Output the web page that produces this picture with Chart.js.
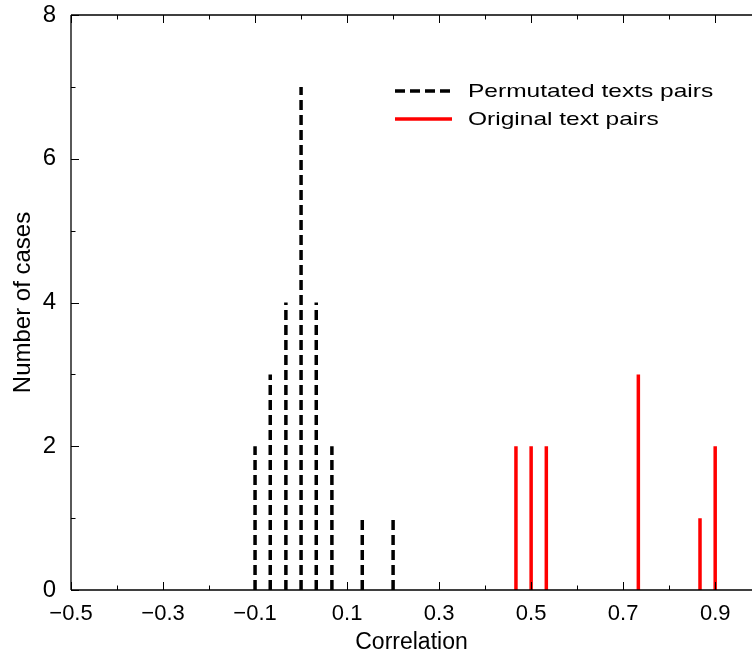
<!DOCTYPE html>
<html>
<head>
<meta charset="utf-8">
<script src="https://cdn.jsdelivr.net/npm/chart.js@4.4.0/dist/chart.umd.min.js"></script>
<style>
  html, body { margin: 0; padding: 0; background: #fff; }
  #wrap { width: 752px; height: 657px; }
</style>
</head>
<body>
<div id="wrap"><canvas id="hist" width="752" height="657"></canvas></div>
<script>
// Correlation histogram: permutated vs original text pairs

const permX = [-0.1, -0.067, -0.033, 0, 0.033, 0.067, 0.133, 0.2];
const permCount = [2, 3, 4, 7, 4, 2, 1, 1];

const origX = [0.467, 0.5, 0.533, 0.733, 0.867, 0.9];
const origCount = [2, 2, 2, 3, 1, 2];

const xTickValues = [-0.5, -0.3, -0.1, 0.1, 0.3, 0.5, 0.7, 0.9];
const yTickValues = [0, 2, 4, 6, 8];

const seriesLabels = ['Permutated texts pairs', 'Original text pairs'];

// every stem: (x,0) -> (x,count), then a null to break the line
function stems(xs, counts) {
  const pts = [];
  xs.forEach((x, i) => {
    pts.push({ x: x, y: 0 }, { x: x, y: counts[i] }, { x: x, y: null });
  });
  return pts;
}

const FONT = "'Liberation Sans', Arial, Helvetica, sans-serif";

// axes frame with inward ticks (gnuplot style)
const framePlugin = {
  id: 'frame',
  afterDatasetsDraw(chart) {
    const { ctx, chartArea: a, scales: { x, y } } = chart;
    ctx.save();
    ctx.strokeStyle = '#000';
    ctx.lineWidth = 1.3;
    ctx.setLineDash([]);
    ctx.beginPath();
    ctx.moveTo(a.left, a.top); ctx.lineTo(a.left, a.bottom);
    ctx.moveTo(a.left, a.bottom); ctx.lineTo(a.right, a.bottom);
    ctx.moveTo(a.left, a.top); ctx.lineTo(a.right, a.top);
    ctx.stroke();

    ctx.lineWidth = 1;
    ctx.beginPath();
    // x ticks every 0.1, major on labelled ones
    for (let i = 0; i <= 15; i++) {
      const v = -0.5 + i * 0.1;
      if (v > x.max + 1e-9) break;
      const px = Math.round(x.getPixelForValue(v)) + 0.5;
      const major = xTickValues.some(t => Math.abs(t - v) < 1e-6);
      const len = major ? 8 : 4.5;
      ctx.moveTo(px, a.bottom); ctx.lineTo(px, a.bottom - len);
      ctx.moveTo(px, a.top); ctx.lineTo(px, a.top + len);
    }
    for (let v = 0; v <= 8; v++) {
      const py = Math.round(y.getPixelForValue(v)) + 0.5;
      const len = yTickValues.includes(v) ? 8 : 4.5;
      ctx.moveTo(a.left, py); ctx.lineTo(a.left + len, py);
    }
    ctx.stroke();
    ctx.restore();
  }
};

// legend drawn inside the plot, text stretched like the original
const keyPlugin = {
  id: 'key',
  afterDraw(chart, args, opts) {
    const { ctx } = chart;
    ctx.save();
    chart.data.datasets.forEach((ds, i) => {
      const yy = opts.y + i * opts.rowGap;
      ctx.strokeStyle = ds.borderColor;
      ctx.lineWidth = ds.borderWidth;
      ctx.setLineDash(ds.borderDash || []);
      ctx.beginPath();
      ctx.moveTo(opts.x, yy);
      ctx.lineTo(opts.x + opts.lineLength, yy);
      ctx.stroke();

      ctx.setLineDash([]);
      ctx.fillStyle = '#000';
      ctx.font = opts.fontSize + 'px ' + FONT;
      ctx.textBaseline = 'middle';
      ctx.textAlign = 'left';
      ctx.save();
      ctx.translate(opts.x + opts.lineLength + opts.textGap, yy + 1);
      ctx.scale(opts.stretch, 1);
      ctx.fillText(ds.label, 0, 0);
      ctx.restore();
    });
    ctx.restore();
  }
};

new Chart(document.getElementById('hist'), {
  type: 'line',
  data: {
    datasets: [
      {
        label: seriesLabels[0],
        data: stems(permX, permCount),
        borderColor: '#000',
        borderWidth: 3.5,
        borderDash: [10, 5],
        borderCapStyle: 'butt',
        pointRadius: 0,
        spanGaps: false,
        tension: 0
      },
      {
        label: seriesLabels[1],
        data: stems(origX, origCount),
        borderColor: '#ff0000',
        borderWidth: 3.5,
        borderCapStyle: 'butt',
        pointRadius: 0,
        spanGaps: false,
        tension: 0
      }
    ]
  },
  options: {
    responsive: false,
    animation: false,
    devicePixelRatio: 1,
    layout: { padding: 0 },
    plugins: {
      legend: { display: false },
      tooltip: { enabled: false },
      key: { x: 395, y: 91, lineLength: 57, rowGap: 28, textGap: 16, fontSize: 19, stretch: 1.29 }
    },
    scales: {
      x: {
        type: 'linear',
        min: -0.5,
        max: 0.98,
        afterBuildTicks: s => { s.ticks = xTickValues.map(v => ({ value: v })); },
        afterFit: s => { s.height = 67; s.paddingRight = 0; },
        grid: { display: false, drawTicks: false },
        border: { display: false },
        ticks: {
          color: '#000',
          padding: 11,
          maxRotation: 0,
          autoSkip: false,
          font: { family: FONT, size: 22 },
          callback: v => (v < 0 ? '\u2212' : '') + Math.abs(v).toFixed(1)
        },
        title: {
          display: true,
          text: 'Correlation',
          color: '#000',
          font: { family: FONT, size: 23 },
          padding: { top: 0, bottom: 1 }
        }
      },
      y: {
        min: 0,
        max: 8,
        afterBuildTicks: s => { s.ticks = yTickValues.map(v => ({ value: v })); },
        afterFit: s => { s.width = 71; s.paddingTop = 15; s.paddingBottom = 0; },
        grid: { display: false, drawTicks: false },
        border: { display: false },
        ticks: {
          color: '#000',
          padding: 15,
          font: { family: FONT, size: 24 }
        },
        title: {
          display: true,
          text: 'Number of cases',
          color: '#000',
          font: { family: FONT, size: 24 },
          padding: { top: 9, bottom: 0 }
        }
      }
    }
  },
  plugins: [framePlugin, keyPlugin]
});
</script>
</body>
</html>
